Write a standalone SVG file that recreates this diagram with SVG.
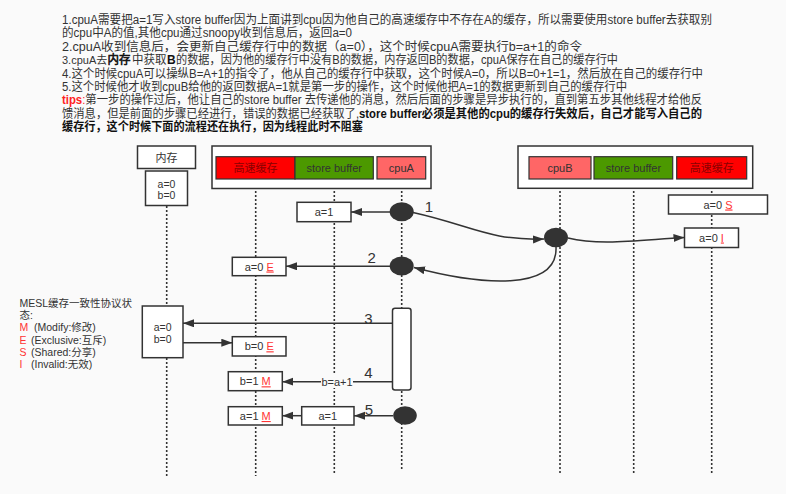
<svg xmlns="http://www.w3.org/2000/svg" width="786" height="494" viewBox="0 0 786 494">
<style>
text{font-family:"Liberation Sans","Noto Sans CJK SC",sans-serif;fill:#333}
.p{font-size:12px}
.b{font-weight:bold;fill:#111}
.fb{fill:#111;stroke:#111;stroke-width:0.6}
.lbl{font-size:11px;text-anchor:middle}
.sm{font-size:10.5px}
.num{font-size:15px;text-anchor:middle}
.box{fill:#fff;stroke:#333;stroke-width:1.5}
.life{stroke:#333;stroke-width:1.6;stroke-dasharray:2 2;fill:none}
.con{stroke:#333;stroke-width:1.5;fill:none}
.dot{fill:#333}
.r{fill:#ff3333}
.u{text-decoration:underline}
.lg{font-size:10.5px}
</style>
<defs>
<marker id="ar" markerUnits="userSpaceOnUse" markerWidth="12" markerHeight="9" refX="11" refY="4" orient="auto">
<path d="M0,0 L11,4 L0,8 z" fill="#333"/>
</marker>
</defs>
<rect width="786" height="494" fill="#fafafa"/>

<g id="description">
<text class="p" x="62" y="24" textLength="650" lengthAdjust="spacingAndGlyphs">1.cpuA需要把a=1写入store buffer因为上面讲到cpu因为他自己的高速缓存中不存在A的缓存，所以需要使用store buffer去获取别</text>
<text class="p" x="62" y="37.4" textLength="290" lengthAdjust="spacingAndGlyphs">的cpu中A的值,其他cpu通过snoopy收到信息后，返回a=0</text>
<text class="p" x="62" y="50.8" textLength="520" lengthAdjust="spacingAndGlyphs">2.cpuA收到信息后，会更新自己缓存行中的数据（a=0），这个时候cpuA需要执行b=a+1的命令</text>
<text x="62" y="64.2" style="font-size:11px">3.cpuA去</text>
<text class="p fb" x="107.5" y="64.2" textLength="23" lengthAdjust="spacingAndGlyphs">内存</text>
<text class="p" x="132" y="64.2" textLength="34.5" lengthAdjust="spacingAndGlyphs">中获取</text>
<text class="p b" x="167" y="64.2">B</text>
<text class="p" x="176" y="64.2" textLength="442" lengthAdjust="spacingAndGlyphs">的数据，因为他的缓存行中没有B的数据，内存返回B的数据，cpuA保存在自己的缓存行中</text>
<text class="p" x="62" y="77.6" textLength="641" lengthAdjust="spacingAndGlyphs">4.这个时候cpuA可以操纵B=A+1的指令了，他从自己的缓存行中获取，这个时候A=0，所以B=0+1=1，然后放在自己的缓存行中</text>
<text class="p" x="62" y="91" textLength="565" lengthAdjust="spacingAndGlyphs">5.这个时候他才收到cpuB给他的返回数据A=1就是第一步的操作，这个时候他把A=1的数据更新到自己的缓存行中</text>
<text class="p" x="62" y="104.4" textLength="640" lengthAdjust="spacingAndGlyphs"><tspan style="font-weight:bold;fill:#ff2222">tips</tspan><tspan style="fill:#ff2222">:</tspan>第一步的操作过后，他让自己的store buffer 去传递他的消息，然后后面的步骤是异步执行的，直到第五步其他线程才给他反</text>
<text class="p" x="62" y="117.8" textLength="640" lengthAdjust="spacingAndGlyphs">馈消息，但是前面的步骤已经进行，错误的数据已经获取了,<tspan class="b">store buffer必须是其他的cpu的缓存行失效后，自己才能写入自己的</tspan></text>
<text class="p b" x="62" y="131.2" textLength="301" lengthAdjust="spacingAndGlyphs">缓存行，这个时候下面的流程还在执行，因为线程此时不阻塞</text>
</g>

<g id="legend">
<text class="lg" x="19.5" y="306.5">MESL缓存一致性协议状</text>
<text class="lg" x="19.5" y="319">态:</text>
<text class="lg" x="19.5" y="331.3"><tspan class="r">M</tspan><tspan x="34">(Modify:修改)</tspan></text>
<text class="lg" x="19.5" y="343.6"><tspan class="r">E</tspan><tspan x="31">(Exclusive:互斥)</tspan></text>
<text class="lg" x="19.5" y="355.9"><tspan class="r">S</tspan><tspan x="31">(Shared:分享)</tspan></text>
<text class="lg" x="19.5" y="368.2"><tspan class="r">I</tspan><tspan x="31">(Invalid:无效)</tspan></text>
</g>

<g id="lifelines">
<line class="life" x1="166.7" y1="206" x2="166.7" y2="478"/>
<line class="life" x1="255.7" y1="179" x2="255.7" y2="476"/>
<line class="life" x1="334.3" y1="179" x2="334.3" y2="475"/>
<line class="life" x1="401.7" y1="179" x2="401.7" y2="470"/>
<line class="life" x1="560" y1="179" x2="560" y2="475"/>
<line class="life" x1="633.7" y1="179" x2="633.7" y2="475"/>
<line class="life" x1="711.7" y1="179" x2="711.7" y2="475"/>
</g>

<g id="memory">
<rect class="box" x="137.5" y="146" width="58" height="22.5"/>
<text class="lbl" x="166.5" y="161.5">内存</text>
<rect class="box" x="145.5" y="171" width="42" height="34.5"/>
<text class="lbl sm" x="166.5" y="187.5">a=0</text>
<text class="lbl sm" x="166.5" y="199">b=0</text>
</g>

<g id="cpuA-group">
<rect class="box" x="212" y="146" width="219" height="42.5"/>
<rect x="216" y="156.7" width="79" height="22.3" fill="#ff0000" stroke="#333" stroke-width="1.2"/>
<text class="lbl" x="255.5" y="172" style="fill:#8a0000">高速缓存</text>
<rect x="295" y="156.7" width="78.3" height="22.3" fill="#4c9900" stroke="#333" stroke-width="1.2"/>
<text class="lbl" x="334.2" y="172">store buffer</text>
<rect x="377" y="156.7" width="48.7" height="22.3" fill="#ff6666" stroke="#333" stroke-width="1.2"/>
<text class="lbl" x="401.4" y="172">cpuA</text>
</g>

<g id="cpuB-group">
<rect class="box" x="518" y="146" width="234.7" height="42.3"/>
<rect x="529" y="156.7" width="62" height="22.3" fill="#ff6666" stroke="#333" stroke-width="1.2"/>
<text class="lbl" x="560" y="172">cpuB</text>
<rect x="594" y="156.7" width="78.7" height="22.3" fill="#4c9900" stroke="#333" stroke-width="1.2"/>
<text class="lbl" x="633.4" y="172">store buffer</text>
<rect x="676.7" y="156.7" width="70" height="22.3" fill="#ff0000" stroke="#333" stroke-width="1.2"/>
<text class="lbl" x="711.7" y="172" style="fill:#8a0000">高速缓存</text>
</g>

<g id="cpuB-cache-S">
<rect class="box" x="668.5" y="195" width="99" height="19"/>
<text class="lbl" x="718" y="208.5">a=0  <tspan class="r u">S</tspan></text>
</g>
<g id="cpuB-cache-I">
<rect class="box" x="684.5" y="228" width="54" height="19.5"/>
<text class="lbl" x="711.5" y="241.5">a=0 <tspan class="r u">I</tspan></text>
</g>

<g id="sb-a1">
<rect class="box" x="297" y="202.3" width="54" height="19.4"/>
<text class="lbl" x="324" y="216">a=1</text>
</g>
<g id="cache-a0E">
<rect class="box" x="232.3" y="257.3" width="53.7" height="18.4"/>
<text class="lbl" x="259.2" y="270.5">a=0 <tspan class="r u">E</tspan></text>
</g>
<g id="memory-2">
<rect class="box" x="142.3" y="306" width="40.7" height="51.7"/>
<text class="lbl sm" x="162.7" y="331.3">a=0</text>
<text class="lbl sm" x="162.7" y="343.3">b=0</text>
</g>
<g id="cache-b0E">
<rect class="box" x="232.3" y="336.7" width="53.7" height="19.3"/>
<text class="lbl" x="259.2" y="350.3">b=0 <tspan class="r u">E</tspan></text>
</g>
<g id="cache-b1M">
<rect class="box" x="228.3" y="371.7" width="54" height="19"/>
<text class="lbl" x="255.3" y="385.3">b=1 <tspan class="r u">M</tspan></text>
</g>
<g id="cache-a1M">
<rect class="box" x="228.3" y="406.7" width="54" height="18.3"/>
<text class="lbl" x="255.3" y="420">a=1 <tspan class="r u">M</tspan></text>
</g>
<g id="sb-a1-2">
<rect class="box" x="301.7" y="406.7" width="52.3" height="18.3"/>
<text class="lbl" x="327.8" y="420">a=1</text>
</g>

<g id="activation">
<rect x="392.5" y="308.3" width="18.5" height="81.7" rx="2.5" fill="#fff" stroke="#333" stroke-width="1.5"/>
</g>

<g id="connectors">
<line class="con" x1="390" y1="212" x2="351" y2="212" marker-end="url(#ar)"/>
<path class="con" d="M413,212.5 C470,225 490,241 544,239" marker-end="url(#ar)"/>
<path class="con" d="M568,238 C600,246 640,240 684.5,237.5" marker-end="url(#ar)"/>
<path class="con" d="M556,247 C558,292 480,285 414,267.5" marker-end="url(#ar)"/>
<line class="con" x1="390" y1="266.3" x2="286" y2="266.3" marker-end="url(#ar)"/>
<line class="con" x1="392.5" y1="323.3" x2="183" y2="323.3" marker-end="url(#ar)"/>
<line class="con" x1="183" y1="342.7" x2="232.3" y2="342.7" marker-end="url(#ar)"/>
<line class="con" x1="392.5" y1="381.7" x2="282.3" y2="381.7" marker-end="url(#ar)"/>
<rect x="321" y="375" width="32" height="13" fill="#fafafa"/>
<text class="lbl" x="337" y="385.5">b=a+1</text>
<line class="con" x1="393" y1="415.7" x2="354" y2="415.7" marker-end="url(#ar)"/>
<line class="con" x1="301.7" y1="415.7" x2="282.3" y2="415.7" marker-end="url(#ar)"/>
<text class="num" x="429" y="212">1</text>
<text class="num" x="371.7" y="262.5">2</text>
<text class="num" x="368.3" y="323.5">3</text>
<text class="num" x="368.3" y="378">4</text>
<text class="num" x="369" y="414.5">5</text>
</g>

<g id="events">
<ellipse class="dot" cx="401.7" cy="211.7" rx="12" ry="9.5"/>
<ellipse class="dot" cx="556" cy="237.5" rx="12" ry="9.8"/>
<ellipse class="dot" cx="401.7" cy="266" rx="12" ry="9.5"/>
<ellipse class="dot" cx="405" cy="415.5" rx="11.8" ry="9.3"/>
</g>
</svg>
